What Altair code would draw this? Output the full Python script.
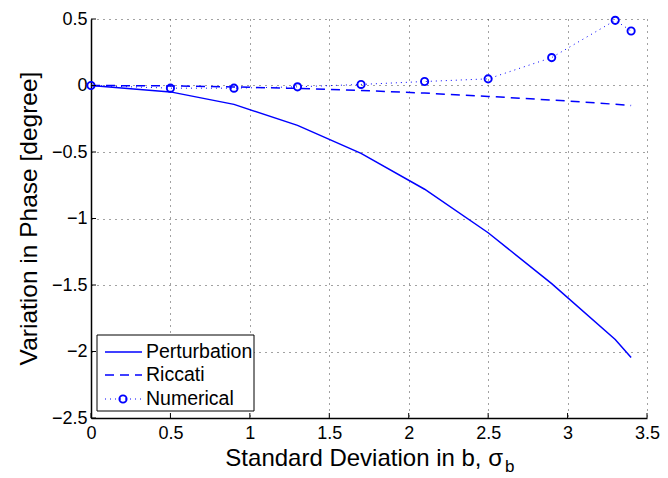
import altair as alt
import pandas as pd

# ---- data ----
x_vals = [0, 0.5, 0.9, 1.3, 1.7, 2.1, 2.5, 2.9, 3.3, 3.4]
perturbation = [0, -0.048, -0.142, -0.30, -0.51, -0.78, -1.107, -1.49, -1.91, -2.045]
riccati = [0, -0.003, -0.011, -0.022, -0.037, -0.057, -0.082, -0.109, -0.141, -0.15]
numerical = [0, -0.02, -0.02, -0.01, 0.008, 0.03, 0.05, 0.21, 0.49, 0.41]
series_names = ["Perturbation", "Riccati", "Numerical"]
x_ticks = [0, 0.5, 1, 1.5, 2, 2.5, 3, 3.5]
y_ticks = [-2.5, -2, -1.5, -1, -0.5, 0, 0.5]
x_title = "Standard Deviation in b, σ"
x_title_sub = "b"
y_title = "Variation in Phase [degree]"

# ---- style ----
W, H = 556, 399
BLUE = "#0000ff"
FONT = "Liberation Sans"

df = pd.DataFrame({
    "x": x_vals * 3,
    "y": perturbation + riccati + numerical,
    "series": [s for s in series_names for _ in x_vals],
})

xs = alt.Scale(domain=[0, 3.5], nice=False, zero=False)
ys = alt.Scale(domain=[-2.5, 0.5], nice=False, zero=False)

common_axis = dict(
    grid=True, gridColor="#444444", gridDash=[1, 5], gridWidth=1,
    ticks=False, domain=True, domainColor="black", domainWidth=1.5,
    labelFont=FONT, labelFontSize=18, labelColor="black",
    labelFlush=False, labelOverlap=False, title=None, format="~g",
)
x_axis = alt.Axis(values=x_ticks, labelPadding=6, **common_axis)
y_axis = alt.Axis(values=y_ticks, labelPadding=4, **common_axis)

X = alt.X("x:Q", scale=xs, axis=x_axis)
Y = alt.Y("y:Q", scale=ys, axis=y_axis)

base = alt.Chart(df)

pert = base.transform_filter(alt.datum.series == series_names[0]).mark_line(
    color=BLUE, strokeWidth=1.5
).encode(x=X, y=Y)
ric = base.transform_filter(alt.datum.series == series_names[1]).mark_line(
    color=BLUE, strokeWidth=1.5, strokeDash=[9, 6]
).encode(x=X, y=Y)
num_line = base.transform_filter(alt.datum.series == series_names[2]).mark_line(
    color=BLUE, strokeWidth=1, strokeDash=[1, 4]
).encode(x=X, y=Y)
num_pts = base.transform_filter(alt.datum.series == series_names[2]).mark_point(
    shape="circle", filled=False, color=BLUE, size=52, strokeWidth=1.9, opacity=1
).encode(x=X, y=Y)

# inward ticks (MATLAB style)
xt = alt.Chart(pd.DataFrame({"x": x_ticks})).mark_rule(color="black", strokeWidth=1).encode(
    x=X, y=alt.value(H), y2=alt.value(H - 5)
)
yt = alt.Chart(pd.DataFrame({"y": y_ticks})).mark_rule(color="black", strokeWidth=1).encode(
    y=Y, x=alt.value(0), x2=alt.value(5)
)

# axis titles
xtitle = alt.Chart(pd.DataFrame({"t": [x_title]})).mark_text(
    font=FONT, fontSize=24, align="right", baseline="alphabetic", color="black"
).encode(text="t:N", x=alt.value(412), y=alt.value(447))
xsub = alt.Chart(pd.DataFrame({"t": [x_title_sub]})).mark_text(
    font=FONT, fontSize=17, align="left", baseline="alphabetic", color="black"
).encode(text="t:N", x=alt.value(414), y=alt.value(453))
ytitle = alt.Chart(pd.DataFrame({"t": [y_title]})).mark_text(
    font=FONT, fontSize=24.5, align="center", baseline="middle", angle=270, color="black"
).encode(text="t:N", x=alt.value(-61), y=alt.value(199.5))

# legend
legend_layers = [
    alt.Chart(pd.DataFrame({"a": [0]})).mark_rect(
        fill="white", stroke="black", strokeWidth=1
    ).encode(x=alt.value(6), x2=alt.value(163), y=alt.value(316), y2=alt.value(392))
]
row_y = [333, 356, 380]
dashes = [None, [9, 6], [1, 4]]
widths = [1.5, 1.5, 1]
for name, ry, dash, sw in zip(series_names, row_y, dashes, widths):
    kw = dict(color=BLUE, strokeWidth=sw)
    if dash:
        kw["strokeDash"] = dash
    legend_layers.append(
        alt.Chart(pd.DataFrame({"a": [0]})).mark_rule(**kw).encode(
            x=alt.value(14), x2=alt.value(51), y=alt.value(ry)
        )
    )
    legend_layers.append(
        alt.Chart(pd.DataFrame({"t": [name]})).mark_text(
            font=FONT, fontSize=19.5, align="left", baseline="middle", color="black"
        ).encode(text="t:N", x=alt.value(55), y=alt.value(ry))
    )
legend_layers.append(
    alt.Chart(pd.DataFrame({"a": [0]})).mark_point(
        shape="circle", filled=False, color=BLUE, size=52, strokeWidth=1.9, opacity=1
    ).encode(x=alt.value(32), y=alt.value(row_y[2]))
)

chart = alt.layer(
    pert, ric, num_line, num_pts, xt, yt, xtitle, xsub, ytitle, *legend_layers
).properties(
    width=W, height=H,
    autosize=alt.AutoSizeParams(type="none"),
    padding={"left": 83, "top": 11, "right": 13, "bottom": 59},
    background="white",
).configure_view(stroke=None)

chart.save("out.html", embed_options={"renderer": "svg", "actions": False})
